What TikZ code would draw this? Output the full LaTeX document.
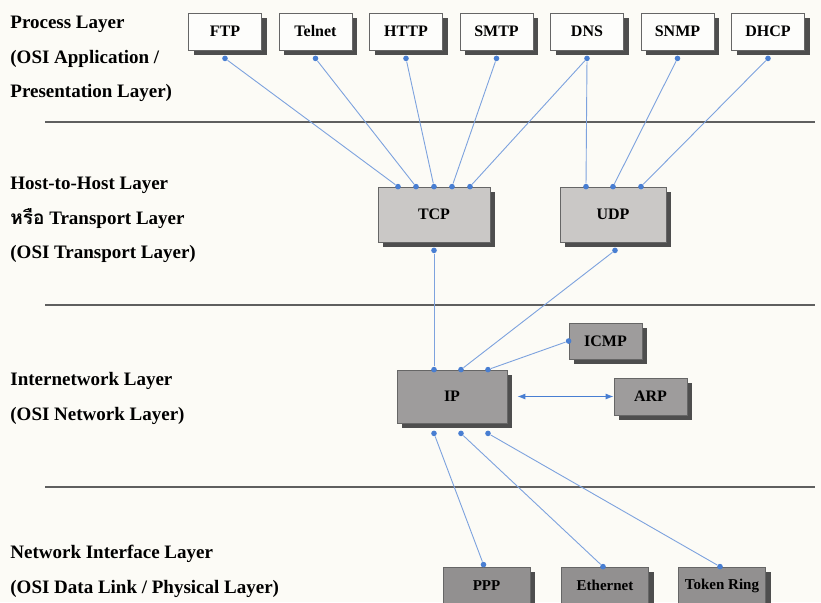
\documentclass[tikz,border=0pt]{standalone}
\usepackage{fontspec}
\setmainfont{Liberation Serif}
\newfontfamily\thaifont[Script=Thai]{Loma}
\usetikzlibrary{shadows}
\usetikzlibrary{arrows.meta}
\definecolor{paper}{RGB}{252,251,246}
\definecolor{wireblue}{RGB}{125,162,222}
\definecolor{portblue}{RGB}{72,126,210}
\definecolor{side}{RGB}{78,78,78}
\definecolor{rulegray}{RGB}{95,95,95}
\definecolor{appfill}{RGB}{253,253,251}
\definecolor{transfill}{RGB}{202,200,198}
\definecolor{netfill}{RGB}{158,156,156}
\definecolor{physfill}{RGB}{146,144,144}

\begin{document}
\begin{tikzpicture}[x=0.5pt, y=-0.5pt,
    proto/.style={rectangle, draw=black!60, line width=0.4pt, inner sep=0pt,
      font=\fontsize{8}{9}\selectfont\bfseries,
      general shadow={fill=side, shadow xshift=2.5pt, shadow yshift=-2.5pt}},
    appbox/.style={proto, fill=appfill, minimum width=36.5pt, minimum height=18.5pt},
    transbox/.style={proto, fill=transfill, minimum height=27.5pt},
    netbox/.style={proto, fill=netfill},
    physbox/.style={proto, fill=physfill, minimum width=43.5pt, minimum height=18.5pt,
      font=\fontsize{7.5}{9}\selectfont\bfseries},
    portdot/.style={circle, fill=portblue, inner sep=0pt, minimum size=2.8pt},
    wire/.style={draw=wireblue, line width=0.45pt},
    layer/.style={anchor=north west, inner sep=0pt, align=left,
      font=\fontsize{9.5}{17.25}\selectfont\bfseries},
    sep/.style={draw=rulegray, line width=0.8pt},
    >={Latex[length=4pt,width=3pt]}
]
    \useasboundingbox (0,0) rectangle (821,602);
    \clip (0,0) rectangle (821,602);
    \fill[paper] (0,0) rectangle (821,602);

    % layer names
    \node[layer] (proc) at (10,16) {Process Layer\\(OSI Application /\\Presentation Layer)};
    \node[layer] (host) at (10,177) {Host-to-Host Layer\\{\thaifont\bfseries หรือ} Transport Layer\\(OSI Transport Layer)};
    \node[layer] (inet) at (10,372) {Internetwork Layer\\(OSI Network Layer)};
    \node[layer] (nif) at (10,545) {Network Interface Layer\\(OSI Data Link / Physical Layer)};

    \draw[sep] (45,122) -- (815,122);
    \draw[sep] (45,305) -- (815,305);
    \draw[sep] (45,487) -- (815,487);

    % process layer
    \foreach \name/\label [count=\i from 0] in {ftp/FTP, telnet/Telnet, http/HTTP, smtp/SMTP, dns/DNS, snmp/SNMP, dhcp/DHCP} {
        \node[appbox] (\name) at (225+90.5*\i, 31.5) {\label};
        \node[portdot] (\name-p) at ([yshift=-4pt]\name.south) {};
    }

    % transport layer
    \node[transbox, minimum width=56pt] (tcp) at (434,214.5) {TCP};
    \node[transbox, minimum width=53pt] (udp) at (613,214.5) {UDP};
    \foreach \k/\dx in {1/-18, 2/-9, 3/0, 4/9, 5/18}
        \node[portdot] (tcp-\k) at ([xshift=\dx pt]tcp.north) {};
    \foreach \k/\dx in {1/-13.5, 2/0, 3/14}
        \node[portdot] (udp-\k) at ([xshift=\dx pt]udp.north) {};
    \node[portdot] (tcp-b) at ([yshift=-4pt]tcp.south) {};
    \node[portdot] (udp-b) at ([yshift=-4pt,xshift=1pt]udp.south) {};

    % internetwork layer
    \node[netbox, minimum width=55pt, minimum height=26.5pt] (ip) at (452,396.5) {IP};
    \node[netbox, minimum width=36.5pt, minimum height=18pt] (icmp) at (605.5,341) {ICMP};
    \node[netbox, minimum width=36.5pt, minimum height=18.5pt] (arp) at (650.5,396.5) {ARP};
    \foreach \k/\dx in {1/-9, 2/4.5, 3/18} {
        \node[portdot] (ip-\k) at ([xshift=\dx pt]ip.north) {};
        \node[portdot] (ipb-\k) at ([xshift=\dx pt, yshift=-5pt]ip.south) {};
    }
    \node[portdot] (icmp-p) at (icmp.west) {};

    % network interface layer
    \node[physbox] (ppp) at (486.5,585.5) {PPP};
    \node[physbox] (eth) at (605,585.5) {Ethernet};
    \node[physbox] (ring) at (722,585.5) {Token Ring};
    \node[portdot] (ppp-p) at ([xshift=-1.5pt, yshift=1pt]ppp.north) {};
    \node[portdot] (eth-p) at ([xshift=-1pt]eth.north) {};
    \node[portdot] (ring-p) at ([xshift=-1pt]ring.north) {};

    % links
    \draw[wire] (ftp-p) -- (tcp-1);
    \draw[wire] (telnet-p) -- (tcp-2);
    \draw[wire] (http-p) -- (tcp-3);
    \draw[wire] (smtp-p) -- (tcp-4);
    \draw[wire] (dns-p) -- (tcp-5);
    \draw[wire] (dns-p) -- (udp-1);
    \draw[wire] (snmp-p) -- (udp-2);
    \draw[wire] (dhcp-p) -- (udp-3);
    \draw[wire] (tcp-b) -- (ip-1);
    \draw[wire] (udp-b) -- (ip-2);
    \draw[wire] (ip-3) -- (icmp-p);
    \draw[wire, <->, portblue] ([xshift=5pt]ip.east) -- (arp.west);
    \draw[wire] (ipb-1) -- (ppp-p);
    \draw[wire] (ipb-2) -- (eth-p);
    \draw[wire] (ipb-3) -- (ring-p);
\end{tikzpicture}
\end{document}
